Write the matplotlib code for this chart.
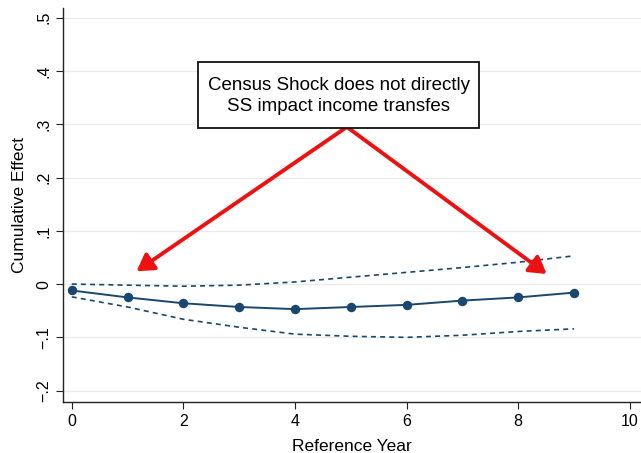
import numpy as np
import matplotlib.pyplot as plt
from matplotlib.patches import Rectangle

plt.rcParams['font.family'] = ['Liberation Sans', 'DejaVu Sans']

# reference years and estimates
years = [0, 1, 2, 3, 4, 5, 6, 7, 8, 9]
effect = [-0.012, -0.025, -0.036, -0.043, -0.047, -0.043, -0.039, -0.031, -0.025, -0.016]
upper = [0.0, -0.002, -0.004, -0.002, 0.004, 0.013, 0.022, 0.031, 0.041, 0.053]
lower = [-0.024, -0.043, -0.066, -0.081, -0.094, -0.098, -0.100, -0.096, -0.089, -0.084]

yticks = [-0.2, -0.1, 0, 0.1, 0.2, 0.3, 0.4, 0.5]
ytick_labels = ['\u2212.2', '\u2212.1', '0', '.1', '.2', '.3', '.4', '.5']
xticks = [0, 2, 4, 6, 8, 10]

note = "Census Shock does not directly\nSS impact income transfes"
arrow_start = (4.93, 0.295)
arrow_ends = [(1.16, 0.024), (8.51, 0.019)]

navy = '#1a476f'

fig = plt.figure(figsize=(6.41, 4.53), dpi=100)
ax = fig.add_axes([0.098, 0.113, 0.902, 0.869])

ax.plot(years, upper, '--', color=navy, lw=1.2, dashes=(3, 2.5))
ax.plot(years, lower, '--', color=navy, lw=1.2, dashes=(3, 2.5))
ax.plot(years, effect, '-', color=navy, lw=1.4, marker='o', markersize=5.8)

ax.set_xlim(-0.16, 10.2)
ax.set_ylim(-0.221, 0.518)
ax.set_yticks(yticks)
ax.set_yticklabels(ytick_labels, rotation=90, va='center')
ax.set_xticks(xticks)
ax.tick_params(axis='both', labelsize=11.5, direction='out', length=5, color='#222222')
ax.tick_params(axis='x', pad=4)
ax.tick_params(axis='y', pad=3)

for y in yticks:
    ax.axhline(y, color='#eaeaea', lw=0.9, zorder=0)

for s in ['top', 'right']:
    ax.spines[s].set_visible(False)
for s in ['left', 'bottom']:
    ax.spines[s].set_color('#222222')
    ax.spines[s].set_linewidth(1.0)

ax.set_xlabel('Reference Year', fontsize=12.5, labelpad=7)
ax.set_ylabel('Cumulative Effect', fontsize=12.5, labelpad=7)

for end in arrow_ends:
    ax.annotate('', xy=end, xytext=arrow_start,
                arrowprops=dict(arrowstyle='-|>,head_length=1.0,head_width=0.6',
                                color='#ee1111', lw=2.8, shrinkA=0, shrinkB=0))

# annotation box (figure fraction)
fig.patches.append(Rectangle((198 / 641, 1 - 128 / 453), 281 / 641, 66 / 453,
                             transform=fig.transFigure, fc='white', ec='#111111',
                             lw=1.3, zorder=5))
fig.text(338.5 / 641, 1 - 96 / 453, note, fontsize=13.5, ha='center', va='center',
         multialignment='center', linespacing=1.25, zorder=6)

fig.savefig('out.png', dpi=100)
